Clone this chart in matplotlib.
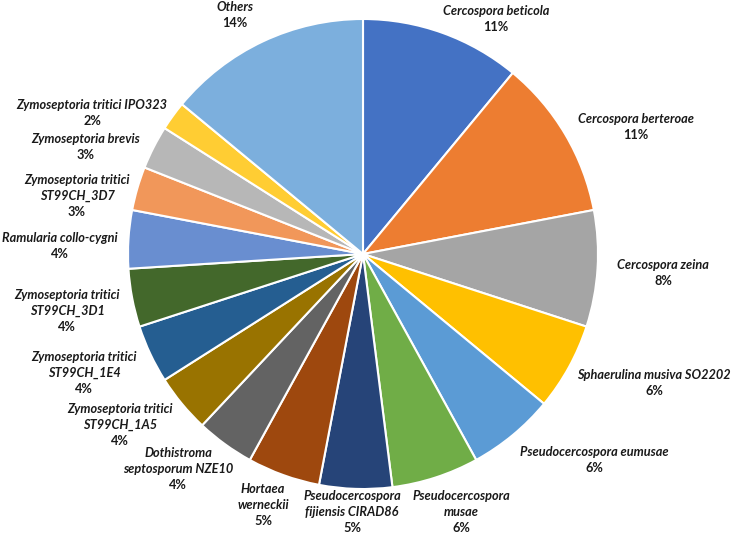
import matplotlib
matplotlib.use("Agg")
import matplotlib.pyplot as plt

# ---- data ----
names = [
    "Cercospora beticola",
    "Cercospora berteroae",
    "Cercospora zeina",
    "Sphaerulina musiva SO2202",
    "Pseudocercospora eumusae",
    "Pseudocercospora\nmusae",
    "Pseudocercospora\nfijiensis CIRAD86",
    "Hortaea\nwerneckii",
    "Dothistroma\nseptosporum NZE10",
    "Zymoseptoria tritici\nST99CH_1A5",
    "Zymoseptoria tritici\nST99CH_1E4",
    "Zymoseptoria tritici\nST99CH_3D1",
    "Ramularia collo-cygni",
    "Zymoseptoria tritici\nST99CH_3D7",
    "Zymoseptoria brevis",
    "Zymoseptoria tritici IPO323",
    "Others",
]
values = [11, 11, 8, 6, 6, 6, 5, 5, 4, 4, 4, 4, 4, 3, 3, 2, 14]

# ---- styles ----
colors = ["#4472C4", "#ED7D31", "#A5A5A5", "#FFC000", "#5B9BD5", "#70AD47",
          "#264478", "#9E480E", "#636363", "#997300", "#255E91", "#43682B",
          "#698ED0", "#F1975A", "#B7B7B7", "#FFCD33", "#7CAFDD"]
# label block centres in pixel coordinates (from top-left)
label_pos = [(496, 19), (636, 127), (663, 273), (654, 383), (594, 460),
             (461, 512), (352, 512), (263, 505), (178, 469), (120, 425),
             (84, 373), (67, 311), (60, 246), (77, 196), (86, 147),
             (92, 113), (235, 15)]

W, H = 731, 537
fig = plt.figure(figsize=(W / 100, H / 100), dpi=100)
ax = fig.add_axes([0, 0, 1, 1])

cx, cy, r = 363, 254, 235
ax.pie(values, colors=colors, startangle=90, counterclock=False,
       center=(cx, H - cy), radius=r, frame=True,
       wedgeprops=dict(edgecolor="white", linewidth=1.5))
ax.set_xlim(0, W)
ax.set_ylim(0, H)
ax.set_aspect("equal")
ax.axis("off")

total = sum(values)
font = "Lato"
fs = 9.2
line_h = 16
for name, v, (px, py) in zip(names, values, label_pos):
    lines = name.split("\n")
    n = len(lines) + 1
    y0 = py - (n - 1) / 2 * line_h
    for i, ln in enumerate(lines):
        ax.text(px, H - (y0 + i * line_h), ln, ha="center", va="center",
                fontsize=fs, fontweight="bold", fontstyle="italic",
                family=font, color="#1a1a1a")
    ax.text(px, H - (y0 + len(lines) * line_h), f"{v / total * 100:.0f}%",
            ha="center", va="center", fontsize=fs, fontweight="bold",
            family=font, color="#1a1a1a")

fig.savefig("out.png", dpi=100, facecolor="white")
